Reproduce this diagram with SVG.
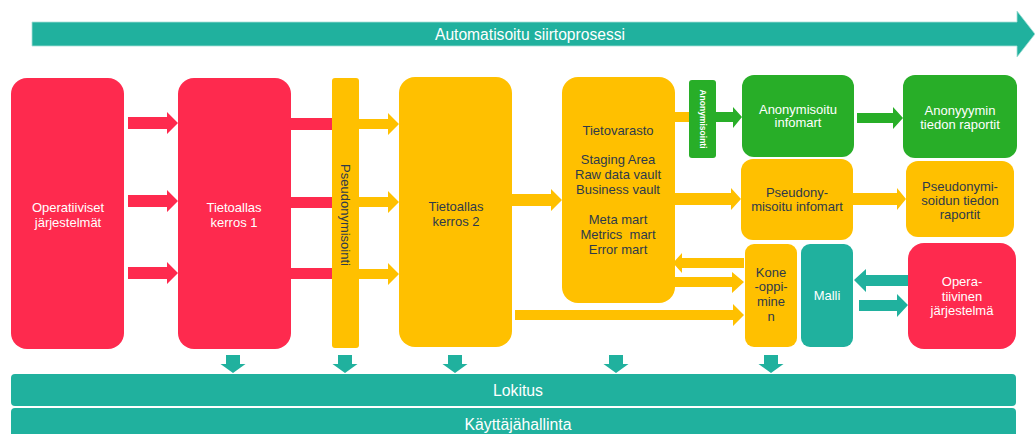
<svg xmlns="http://www.w3.org/2000/svg" width="1035" height="434" viewBox="0 0 1035 434">
<style>
.red{fill:#FE2A4E}
.yel{fill:#FFC000}
.grn{fill:#28AE28}
.teal{fill:#20B19E}
text{font-family:"Liberation Sans",Arial,sans-serif;text-anchor:middle}
.w{fill:#ffffff;font-size:13px}
.d{fill:#2E3A4B;font-size:13px}
.big{fill:#ffffff;font-size:16px}
</style>
<rect width="1035" height="434" fill="#ffffff"/>
<g id="process-arrow">
<polygon class="teal" points="32,22 1017,22 1017,11 1035,34 1017,57 1017,46 32,46" stroke="#a6e0d7" stroke-width="0.8"/>
<text class="big" x="530" y="40" textLength="190" lengthAdjust="spacingAndGlyphs">Automatisoitu siirtoprosessi</text>
</g>
<g id="connectors">
<!-- red arrows -->
<polygon class="red" points="128,117 167,117 167,112 178,123 167,134 167,129 128,129"/>
<polygon class="red" points="128,195 167,195 167,190 178,201 167,212 167,207 128,207"/>
<polygon class="red" points="128,267 167,267 167,262 178,273 167,284 167,279 128,279"/>
<rect class="red" x="290" y="118" width="43" height="12"/>
<rect class="red" x="290" y="197" width="43" height="11"/>
<rect class="red" x="290" y="268" width="43" height="11"/>
<!-- yellow arrows -->
<polygon class="yel" points="359,119 388,119 388,113 399,124 388,135 388,129 359,129"/>
<polygon class="yel" points="359,197 388,197 388,191 399,202 388,213 388,207 359,207"/>
<polygon class="yel" points="359,269 388,269 388,263 399,274 388,285 388,279 359,279"/>
<polygon class="yel" points="511,194 551,194 551,189 562,200 551,211 551,206 511,206"/>
<polygon class="yel" points="674,193 731,193 731,188 741,199 731,210 731,205 674,205"/>
<polygon class="yel" points="852,193 897,193 897,188 906,199 897,210 897,205 852,205"/>
<rect class="yel" x="674" y="112" width="16" height="10"/>
<polygon class="yel" points="744,258 682,258 682,253 673,263 682,273 682,268 744,268"/>
<polygon class="yel" points="674,277 732,277 732,272 744,282 732,293 732,287 674,287"/>
<polygon class="yel" points="515,310 733,310 733,304 744,315 733,326 733,320 515,320"/>
<!-- green arrows -->
<polygon class="grn" points="715,112 733,112 733,107 742,117 733,128 733,122 715,122"/>
<polygon class="grn" points="857,113 893,113 893,107 903,118 893,129 893,123 857,123"/>
<!-- teal arrows -->
<polygon class="teal" points="908,275 866,275 866,269 854,280 866,292 866,286 908,286"/>
<polygon class="teal" points="859,300 897,300 897,294 908,305 897,317 897,311 859,311"/>
<polygon class="teal" points="226,355 240,355 240,364 245.5,364 233,373 220.5,364 226,364"/>
<polygon class="teal" points="338,355 352,355 352,364 357.5,364 345,373 332.5,364 338,364"/>
<polygon class="teal" points="448,355 462,355 462,364 467.5,364 455,373 442.5,364 448,364"/>
<polygon class="teal" points="609,355 623,355 623,364 628.5,364 616,373 603.5,364 609,364"/>
<polygon class="teal" points="764,355 778,355 778,364 783.5,364 771,373 758.5,364 764,364"/>
</g>
<g id="operatiiviset">
<rect class="red" x="11" y="78" width="113" height="271" rx="16"/>
<text class="w" x="68" y="212">Operatiiviset</text>
<text class="w" x="68" y="227">järjestelmät</text>
</g>
<g id="tietoallas1">
<rect class="red" x="178" y="78" width="113" height="271" rx="16"/>
<text class="w" x="234" y="212">Tietoallas</text>
<text class="w" x="234" y="227">kerros 1</text>
</g>
<g id="pseudonymisointi">
<rect class="yel" x="332" y="78" width="27" height="270" rx="3"/>
<text class="d" x="0" y="0" font-size="12" transform="translate(341,215) rotate(90)">Pseudonymisointi</text>
</g>
<g id="tietoallas2">
<rect class="yel" x="399" y="77" width="113" height="270" rx="16"/>
<text class="d" x="456" y="211">Tietoallas</text>
<text class="d" x="456" y="226">kerros 2</text>
</g>
<g id="tietovarasto">
<rect class="yel" x="562" y="77" width="113" height="226" rx="16"/>
<text class="d" x="618" y="135">Tietovarasto</text>
<text class="d" x="618" y="164">Staging Area</text>
<text class="d" x="618" y="179">Raw data vault</text>
<text class="d" x="618" y="194">Business vault</text>
<text class="d" x="618" y="224">Meta mart</text>
<text class="d" x="618" y="239" xml:space="preserve">Metrics  mart</text>
<text class="d" x="618" y="254">Error mart</text>
</g>
<g id="anonymisointi">
<rect class="grn" x="689" y="80" width="27" height="78" rx="3"/>
<text x="0" y="0" fill="#ffffff" font-size="8.5" font-weight="bold" transform="translate(699.5,119) rotate(90)">Anonymisointi</text>
</g>
<g id="anonymisoitu-infomart">
<rect class="grn" x="742" y="75" width="112" height="82" rx="12"/>
<text class="w" x="798" y="114">Anonymisoitu</text>
<text class="w" x="798" y="127">infomart</text>
</g>
<g id="anonyymin-raportit">
<rect class="grn" x="903" y="75" width="114" height="83" rx="12"/>
<text class="w" x="960" y="115">Anonyyymin</text>
<text class="w" x="960" y="129">tiedon raportit</text>
</g>
<g id="pseudonymisoitu-infomart">
<rect class="yel" x="741" y="159" width="112" height="81" rx="12"/>
<text class="d" x="797" y="197">Pseudony-</text>
<text class="d" x="797" y="211">misoitu infomart</text>
</g>
<g id="pseudonymisoidun-raportit">
<rect class="yel" x="906" y="161" width="108" height="76" rx="12"/>
<text class="d" x="960" y="191">Pseudonymi-</text>
<text class="d" x="960" y="205">soidun tiedon</text>
<text class="d" x="960" y="219">raportit</text>
</g>
<g id="koneoppiminen">
<rect class="yel" x="745" y="244" width="52" height="103" rx="9"/>
<text class="d" x="771" y="277">Kone</text>
<text class="d" x="771" y="291">-oppi-</text>
<text class="d" x="771" y="306">mine</text>
<text class="d" x="771" y="321">n</text>
</g>
<g id="malli">
<rect class="teal" x="801" y="244" width="52" height="103" rx="9"/>
<text class="w" x="827" y="300">Malli</text>
</g>
<g id="operatiivinen">
<rect class="red" x="908" y="243" width="108" height="106" rx="16"/>
<text class="w" x="962" y="286">Opera-</text>
<text class="w" x="962" y="301">tiivinen</text>
<text class="w" x="962" y="315">järjestelmä</text>
</g>
<g id="lokitus">
<rect class="teal" x="11" y="374" width="1005" height="32" rx="4"/>
<text class="big" x="518" y="396" textLength="50" lengthAdjust="spacingAndGlyphs">Lokitus</text>
</g>
<g id="kayttajahallinta">
<rect class="teal" x="11" y="408" width="1005" height="34" rx="4"/>
<text class="big" x="518" y="430" textLength="107" lengthAdjust="spacingAndGlyphs">Käyttäjähallinta</text>
</g>
</svg>
